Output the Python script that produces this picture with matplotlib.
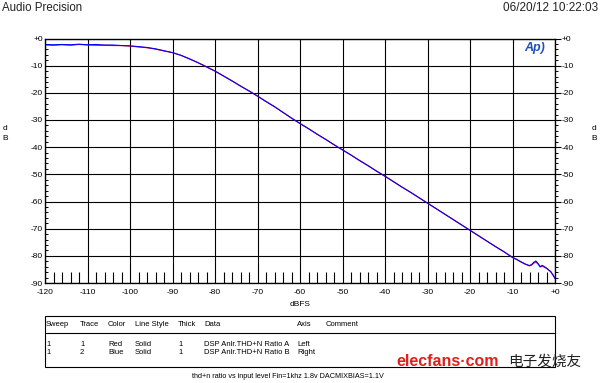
import matplotlib
matplotlib.use("Agg")
import matplotlib.pyplot as plt
from matplotlib.ticker import MultipleLocator

plt.rcParams["font.family"] = ["Liberation Sans", "DejaVu Sans"]

# input level (dBFS) and THD+N ratio (dB)
LEVEL = [-120, -118, -116, -114, -112, -110, -108, -106, -104, -102,
         -100, -98, -96, -94, -92, -90, -88, -86, -84, -82,
         -80, -78, -76, -74, -72, -70, -68, -66, -64, -62,
         -60, -58, -56, -54, -52, -50, -48, -46, -44, -42,
         -40, -38, -36, -34, -32, -30, -28, -26, -24, -22,
         -20, -18, -16, -14, -12, -10, -9, -8, -7, -6,
         -5.5, -5, -4.5, -4, -3.5, -3, -2.5, -2, -1.5, -1, -0.5, 0]
RATIO_A = [-2.4, -2.5, -2.3, -2.5, -2.2, -2.4, -2.5, -2.5, -2.6, -2.6,
           -2.8, -3.1, -3.4, -3.9, -4.6, -5.2, -6.2, -7.5, -8.9, -10.5,
           -12.0, -13.8, -15.6, -17.5, -19.3, -21.2, -23.2, -25.1, -27.2, -29.3,
           -31.3, -33.2, -35.2, -37.1, -39.1, -41.0, -42.9, -44.9, -46.8, -48.8,
           -50.7, -52.7, -54.7, -56.6, -58.6, -60.6, -62.6, -64.6, -66.6, -68.6,
           -70.6, -72.6, -74.6, -76.6, -78.5, -80.6, -81.4, -82.3, -83.1, -83.7,
           -83.4, -82.7, -82.3, -83.0, -84.1, -83.8, -84.2, -84.6, -85.2, -85.9, -87.0, -88.3]
RATIO_B = [-2.2, -2.3, -2.2, -2.3, -2.1, -2.3, -2.2, -2.4, -2.4, -2.6,
           -2.7, -3.0, -3.3, -3.8, -4.5, -5.2, -6.2, -7.5, -8.9, -10.4,
           -12.0, -13.8, -15.6, -17.5, -19.3, -21.2, -23.2, -25.1, -27.2, -29.3,
           -31.3, -33.2, -35.2, -37.1, -39.1, -41.0, -42.9, -44.9, -46.8, -48.8,
           -50.7, -52.7, -54.7, -56.6, -58.6, -60.6, -62.6, -64.6, -66.6, -68.6,
           -70.6, -72.6, -74.6, -76.6, -78.5, -80.6, -81.3, -82.2, -83.0, -83.6,
           -83.2, -82.4, -81.9, -82.8, -84.0, -83.5, -84.0, -84.5, -85.2, -85.8, -87.0, -88.3]

Y_TICKS = list(range(0, -91, -10))
Y_LABELS = ["+0" if v == 0 else str(v) for v in Y_TICKS]
X_TICKS = list(range(-120, 1, 10))
X_LABELS = ["+0" if v == 0 else str(v) for v in X_TICKS]

TABLE_HEAD = ["Sweep", "Trace", "Color", "Line Style", "Thick", "Data", "Axis", "Comment"]
TABLE_ROWS = [["1", "1", "Red", "Solid", "1", "DSP Anlr.THD+N Ratio A", "Left", ""],
              ["1", "2", "Blue", "Solid", "1", "DSP Anlr.THD+N Ratio B", "Right", ""]]
TABLE_COLS_PX = [46, 80, 108, 135, 178, 204, 297, 326]

W, H = 600, 383


def fx(x):
    return x / W


def fy(y):
    return 1 - y / H


fig = plt.figure(figsize=(6.0, 3.83), dpi=100)
ax = fig.add_axes([fx(45), fy(283), fx(555) - fx(45), fy(38.5) - fy(283)])

ax.plot(LEVEL, RATIO_A, color="red", linewidth=0.8)
ax.plot(LEVEL, RATIO_B, color="blue", linewidth=0.8)

ax.set_xlim(-120, 0)
ax.set_ylim(-90, 0)
ax.set_xticks(X_TICKS)
ax.set_xticklabels(X_LABELS)
ax.set_yticks(Y_TICKS)
ax.set_yticklabels(Y_LABELS)
ax.xaxis.set_minor_locator(MultipleLocator(2))
ax.yaxis.set_minor_locator(MultipleLocator(2))
ax.grid(True, which="major", color="black", linewidth=0.8)
ax.tick_params(which="major", length=0, labelsize=6)
ax.tick_params(axis="x", which="major", pad=4)
ax.tick_params(axis="y", which="major", pad=1.5)
ax.tick_params(axis="x", which="minor", direction="in", length=8, width=0.8, top=False)
ax.tick_params(axis="y", which="minor", direction="in", length=2.5, width=0.7)
for sp in ax.spines.values():
    sp.set_linewidth(0.9)

# right-hand axis, ticks pointing out
ax2 = ax.twinx()
ax2.set_ylim(-90, 0)
ax2.set_yticks(Y_TICKS)
ax2.set_yticklabels(Y_LABELS)
ax2.yaxis.set_minor_locator(MultipleLocator(2))
ax2.tick_params(which="major", length=4, width=0.8, labelsize=6, pad=1)
ax2.tick_params(which="minor", direction="out", length=2.5, width=0.7)

ax.set_xlabel("dBFS", fontsize=6, labelpad=4)
fig.text(fx(5), fy(128), "d", fontsize=6, ha="center", va="center")
fig.text(fx(5), fy(139), "B", fontsize=6, ha="center", va="center")
fig.text(fx(594), fy(128), "d", fontsize=6, ha="center", va="center")
fig.text(fx(594), fy(139), "B", fontsize=6, ha="center", va="center")

fig.text(fx(2), fy(8), "Audio Precision", fontsize=8.3, ha="left", va="center", color="#222222")
fig.text(fx(598), fy(8), "06/20/12 10:22:03", fontsize=8.5, ha="right", va="center", color="#222222")
fig.text(fx(535), fy(48), "Ap)", fontsize=9, ha="center", va="center", color="#1a4fc0",
         fontweight="bold", style="italic")

# legend table below the plot
box = plt.Rectangle((fx(45), fy(367)), fx(555) - fx(45), fy(316) - fy(367),
                    transform=fig.transFigure, fill=False, edgecolor="black", linewidth=0.8)
fig.add_artist(box)
fig.add_artist(plt.Line2D([fx(45), fx(555)], [fy(333), fy(333)],
                          transform=fig.transFigure, color="black", linewidth=0.8))
for x, txt in zip(TABLE_COLS_PX, TABLE_HEAD):
    fig.text(fx(x), fy(325), txt, fontsize=5.5, ha="left", va="center")
for y, row in zip([344, 353], TABLE_ROWS):
    for x, txt in zip(TABLE_COLS_PX, row):
        fig.text(fx(x), fy(y), txt, fontsize=5.5, ha="left", va="center")

fig.text(fx(192), fy(376), "thd+n ratio vs input level Fin=1khz 1.8v DACMIXBIAS=1.1V",
         fontsize=5.2, ha="left", va="center")

# watermark
fig.text(fx(396), fy(362), "elecfans\u00b7com", fontsize=11.5, ha="left", va="center",
         color="#e0201c", fontweight="bold")
fig.text(fx(508), fy(362), "电子发烧友", fontsize=10.5, ha="left", va="center",
         family=["Noto Sans CJK SC", "DejaVu Sans"], color="#222222")

fig.savefig("out.png", dpi=100)
